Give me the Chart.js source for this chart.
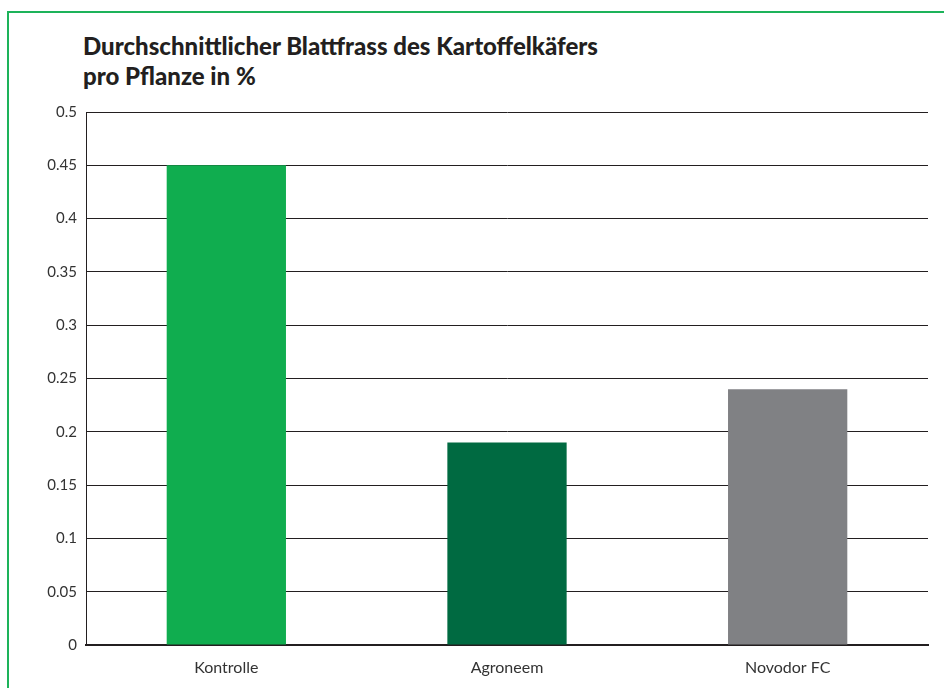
<!DOCTYPE html>
<html>
<head>
<meta charset="utf-8">
<script src="https://cdn.jsdelivr.net/npm/chart.js@4"></script>
<style>
  body { margin: 0; background: #fff; }
  #wrap { position: relative; width: 944px; height: 688px; overflow: hidden; }
  #frame { position: absolute; left: 7px; top: 11px; width: 960px; height: 700px;
           border-top: 2px solid #1db35a; border-left: 2px solid #1db35a; }
  #title { position: absolute; left: 83px; top: 31px; font-family: Lato, sans-serif;
           font-weight: 900; font-size: 24px; line-height: 30px; color: #231f20; }
  canvas { position: absolute; left: 0; top: 0; }
</style>
</head>
<body>
<div id="wrap">
  <div id="frame"></div>
  <div id="title">Durchschnittlicher Blattfrass des Kartoffelkäfers<br>pro Pflanze in %</div>
  <canvas id="chart" width="944" height="688"></canvas>
</div>
<script>
// Data
const categories = ['Kontrolle', 'Agroneem', 'Novodor FC'];
const blattfrass = [0.45, 0.19, 0.24];
const barColors = ['#10ad4f', '#006a41', '#808184'];

const ctx = document.getElementById('chart').getContext('2d');

new Chart(ctx, {
    type: 'bar',
    data: {
        labels: categories,
        datasets: [{
            data: blattfrass,
            backgroundColor: barColors,
            borderWidth: 0,
            categoryPercentage: 1,
            barPercentage: 0.425
        }]
    },
    options: {
        responsive: false,
        animation: false,
        layout: {
            padding: { left: 40, top: 112, right: 16, bottom: 0 }
        },
        plugins: {
            legend: { display: false },
            tooltip: { enabled: false }
        },
        scales: {
            y: {
                min: 0,
                max: 0.5,
                ticks: {
                    stepSize: 0.05,
                    padding: 9,
                    color: '#333',
                    font: { family: 'Lato', size: 15 },
                    // 0.5, 0.45, 0.4 ... 0 without trailing zeros
                    callback: (value) => String(Number(value.toFixed(2)))
                },
                grid: { color: '#231f20', lineWidth: 1, drawTicks: false },
                border: { color: '#231f20', width: 1 },
                afterFit: (axis) => { axis.width = 46; }
            },
            x: {
                ticks: {
                    padding: 13,
                    color: '#333',
                    font: { family: 'Lato', size: 16 }
                },
                grid: { color: 'rgba(0,0,0,0)', drawTicks: false },
                border: { color: '#231f20', width: 2 },
                afterFit: (axis) => { axis.height = 43; }
            }
        }
    }
});
</script>
</body>
</html>
